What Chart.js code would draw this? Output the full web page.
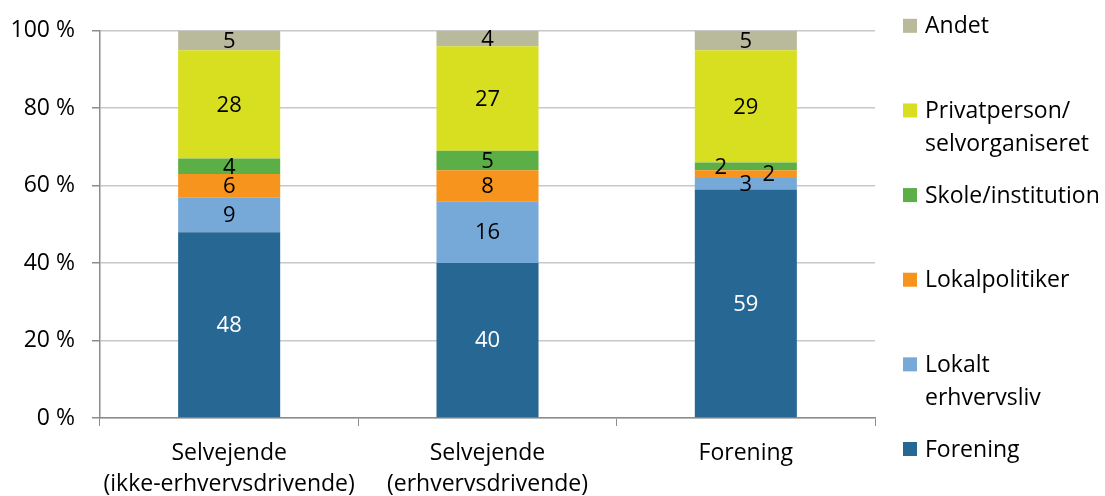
<!DOCTYPE html>
<html>
<head>
<meta charset="utf-8">
<script src="https://cdn.jsdelivr.net/npm/chart.js@4/dist/chart.umd.min.js"></script>
<style>
  html, body { margin: 0; padding: 0; background: #fff; }
  #wrap { width: 1105px; height: 496px; }
</style>
</head>
<body>
<div id="wrap"><canvas id="chart" width="1105" height="496"></canvas></div>
<script>
// kategorier og værdier (procent)
const categories = [
    ['Selvejende', '(ikke-erhvervsdrivende)'],
    ['Selvejende', '(erhvervsdrivende)'],
    ['Forening']
];
const forening       = [48, 40, 59];
const lokaltErhverv  = [9, 16, 3];
const lokalpolitiker = [6, 8, 2];
const skole          = [4, 5, 2];
const privatperson   = [28, 27, 29];
const andet          = [5, 4, 5];
const yTicks = [0, 20, 40, 60, 80, 100];

const FONT = '"Open Sans", Lato, sans-serif';

const datasets = [
    { lines: ['Forening'], data: forening, backgroundColor: '#266893', labelColor: '#fff' },
    { lines: ['Lokalt', 'erhvervsliv'], data: lokaltErhverv, backgroundColor: '#76a9d8', labelColor: '#000' },
    { lines: ['Lokalpolitiker'], data: lokalpolitiker, backgroundColor: '#f7941e', labelColor: '#000' },
    { lines: ['Skole/institution'], data: skole, backgroundColor: '#5cae46', labelColor: '#000' },
    { lines: ['Privatperson/', 'selvorganiseret'], data: privatperson, backgroundColor: '#d8df21', labelColor: '#000' },
    { lines: ['Andet'], data: andet, backgroundColor: '#b9b99c', labelColor: '#000' }
];

// tal i søjlerne
const valueLabels = {
    id: 'valueLabels',
    afterDatasetsDraw(chart) {
        const ctx = chart.ctx;
        ctx.save();
        ctx.font = '22px ' + FONT;
        ctx.textAlign = 'center';
        ctx.textBaseline = 'middle';
        chart.data.datasets.forEach((ds, i) => {
            const meta = chart.getDatasetMeta(i);
            meta.data.forEach((bar, j) => {
                const v = ds.data[j];
                let x = bar.x;
                const y = (bar.y + bar.base) / 2;
                // små segmenter skubbes til siden så de ikke overlapper
                if (v < 3) x += (i === 3 ? -25 : 23);
                ctx.fillStyle = ds.labelColor;
                ctx.fillText(String(v), x, y + 1);
            });
        });
        ctx.restore();
    }
};

// forklaring til højre, omvendt rækkefølge
const sideLegend = {
    id: 'sideLegend',
    afterDraw(chart) {
        const ctx = chart.ctx;
        const area = chart.chartArea;
        const items = chart.data.datasets.slice().reverse();
        const top = area.top - 5;
        const step = (area.bottom + 31 - top) / (items.length - 1);
        ctx.save();
        ctx.font = '23px ' + FONT;
        ctx.textBaseline = 'middle';
        ctx.textAlign = 'left';
        items.forEach((ds, k) => {
            const y = top + k * step;
            ctx.fillStyle = ds.backgroundColor;
            ctx.fillRect(area.right + 28, y - 7, 14, 14);
            ctx.fillStyle = '#000';
            ds.lines.forEach((line, n) => {
                ctx.fillText(line, area.right + 50, y + 1 + n * 33);
            });
        });
        ctx.restore();
    }
};

new Chart(document.getElementById('chart').getContext('2d'), {
    type: 'bar',
    data: {
        labels: categories,
        datasets: datasets.map(d => ({
            label: d.lines.join(' '),
            lines: d.lines,
            data: d.data,
            backgroundColor: d.backgroundColor,
            labelColor: d.labelColor,
            barPercentage: 0.395,
            categoryPercentage: 1
        }))
    },
    options: {
        responsive: false,
        animation: false,
        devicePixelRatio: 1,
        layout: { padding: { top: 28, right: 230, left: 0, bottom: 0 } },
        plugins: {
            legend: { display: false },
            tooltip: { enabled: false }
        },
        scales: {
            x: {
                stacked: true,
                afterFit(scale) { scale.height = 78; },
                grid: { drawOnChartArea: false, drawTicks: true, tickLength: 8, color: '#8c8c8c', offset: true },
                border: { color: '#8c8c8c', width: 1.5 },
                ticks: { color: '#000', padding: 12, font: { family: FONT, size: 23, lineHeight: 1.36 }, maxRotation: 0 }
            },
            y: {
                stacked: true,
                min: 0,
                max: 100,
                afterFit(scale) { scale.width = 100; },
                afterBuildTicks(scale) { scale.ticks = yTicks.map(v => ({ value: v })); },
                grid: { color: '#c8c8c8', lineWidth: 1.5, tickLength: 8, tickColor: '#8c8c8c' },
                border: { color: '#8c8c8c', width: 1.5 },
                ticks: {
                    color: '#000',
                    padding: 17,
                    font: { family: FONT, size: 23 },
                    callback: v => v + ' %'
                }
            }
        }
    },
    plugins: [valueLabels, sideLegend]
});
</script>
</body>
</html>
